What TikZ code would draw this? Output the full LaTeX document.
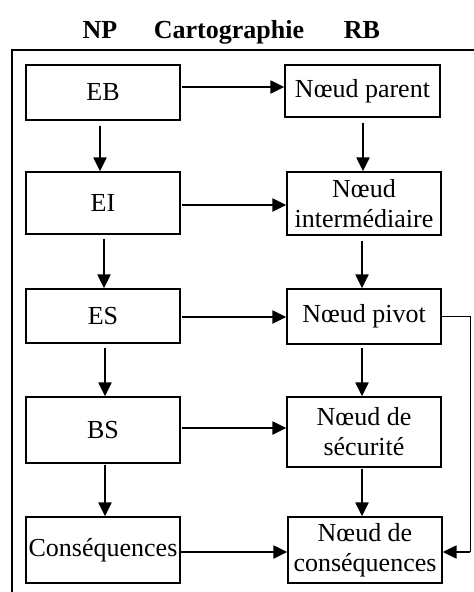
\documentclass[tikz,border=0pt]{standalone}
\usepackage{fontspec}
\setmainfont{Liberation Serif}
\usetikzlibrary{arrows.meta}
\begin{document}
\begin{tikzpicture}[x=1pt,y=-1pt,
  box/.style={draw,line width=1.3pt,inner xsep=2pt,inner ysep=0pt,align=center,
    font=\fontsize{26}{30}\selectfont},
  arr/.style={line width=2.2pt,-{Triangle[length=14pt,width=13pt]}},
  head/.style={font=\bfseries\fontsize{26}{30}\selectfont,anchor=base}]
\useasboundingbox (0,0) rectangle (474,592);
\clip (0,0) rectangle (474,592);
% outer frame (runs past the right and bottom edges)
\draw[line width=1.3pt] (12,600) -- (12,50) -- (480,50);
% column headings
\node[head] (hnp) at (100,38) {NP};
\node[head] (hcart) at (229,38) {Cartographie};
\node[head] (hrb) at (362,38) {RB};
% left column
\node[box,minimum width=154pt,minimum height=55pt] (eb) at (103,92.5) {EB};
\node[box,minimum width=154pt,minimum height=62pt] (ei) at (103,203) {EI};
\node[box,minimum width=154pt,minimum height=54pt] (es) at (103,316) {ES};
\node[box,minimum width=154pt,minimum height=66pt] (bs) at (103,430) {BS};
\node[box,minimum width=154pt,minimum height=66pt] (cons) at (103,550) {Conséquences};
% right column
\node[box,minimum width=155pt,minimum height=52pt] (npar) at (362.5,91) {Nœud parent};
\node[box,minimum width=154pt,minimum height=63pt] (nint) at (364,203.5) {Nœud\\intermédiaire};
\node[box,minimum width=154pt,minimum height=55pt] (npiv) at (364,316.5) {Nœud pivot};
\node[box,minimum width=154pt,minimum height=70pt] (nsec) at (364,432) {Nœud de\\sécurité};
\node[box,minimum width=154pt,minimum height=66pt] (ncons) at (365,550) {Nœud de\\conséquences};
% horizontal links
\draw[arr,shorten <=1pt] (eb.east |- 0,87) -- (npar.west |- 0,87);
\draw[arr,shorten <=1pt] (ei.east |- 0,205) -- (nint.west |- 0,205);
\draw[arr,shorten <=1pt] (es.east |- 0,317) -- (npiv.west |- 0,317);
\draw[arr,shorten <=1pt] (bs.east |- 0,428) -- (nsec.west |- 0,428);
\draw[arr] (cons.east |- 0,552) -- (ncons.west |- 0,552);
% vertical links
\draw[arr,shorten <=5pt] (eb.south -| 100,0) -- (ei.north -| 100,0);
\draw[arr,shorten <=4pt] (ei.south -| 104,0) -- (es.north -| 104,0);
\draw[arr,shorten <=4pt] (es.south -| 105,0) -- (bs.north -| 105,0);
\draw[arr,shorten <=1pt] (bs.south -| 105,0) -- (cons.north -| 105,0);
\draw[arr,shorten <=5pt] (npar.south -| 363,0) -- (nint.north -| 363,0);
\draw[arr,shorten <=5pt] (nint.south -| 362,0) -- (npiv.north -| 362,0);
\draw[arr,shorten <=3pt] (npiv.south -| 362,0) -- (nsec.north -| 362,0);
\draw[arr,shorten <=1pt] (nsec.south -| 362,0) -- (ncons.north -| 362,0);
% bypass from the pivot node to the consequence node
\coordinate (bt) at (470,316);
\coordinate (bb) at (470,552);
\draw[line width=0.8pt] (npiv.east |- bt) -- (bt) -- (bb);
\draw[arr] (bb) -- (ncons.east |- bb);
\end{tikzpicture}
\end{document}
